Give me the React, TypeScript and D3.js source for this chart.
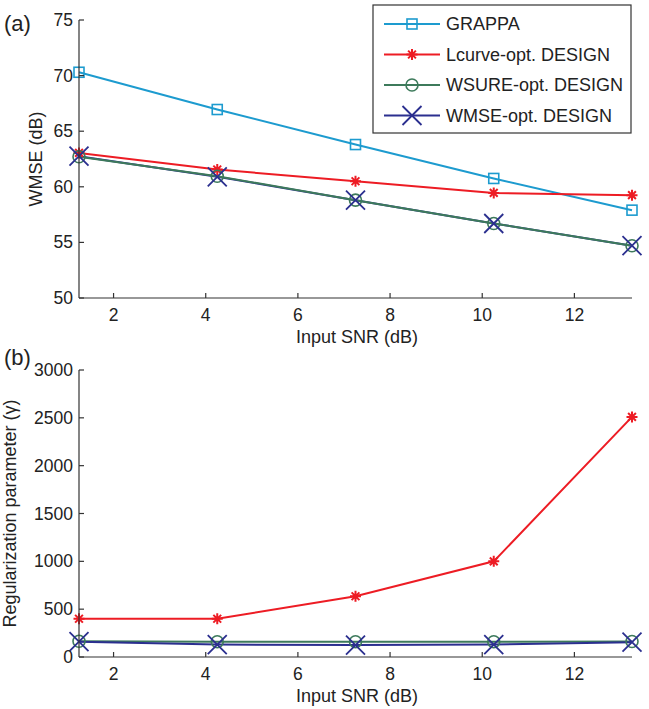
import React from "react";
import * as d3 from "d3";

// input SNR (dB) for every measurement
const snr = [1.25, 4.25, 7.25, 10.25, 13.25];

// (a) WMSE in dB
const wmseGrappa = [70.3, 66.95, 63.8, 60.75, 57.9];
const wmseLcurve = [63.05, 61.55, 60.5, 59.45, 59.25];
const wmseWsure = [62.7, 60.95, 58.8, 56.7, 54.7];
const wmseWmse = [62.75, 60.9, 58.8, 56.7, 54.7];

// (b) regularization parameter
const gammaLcurve = [400, 400, 635, 1000, 2510];
const gammaWsure = [165, 160, 160, 160, 162];
const gammaWmse = [160, 130, 125, 130, 155];

const xTicks = [2, 4, 6, 8, 10, 12];
const yTicksA = [50, 55, 60, 65, 70, 75];
const yTicksB = [0, 500, 1000, 1500, 2000, 2500, 3000];

const legendNames = [
  "GRAPPA",
  "Lcurve-opt. DESIGN",
  "WSURE-opt. DESIGN",
  "WMSE-opt. DESIGN",
];

const colors = ["#1d9bcf", "#ed1c24", "#3d7a5b", "#2b2f8f"];
const markers = ["square", "star", "circle", "cross"];

const FONT = "'Liberation Sans', Arial, Helvetica, sans-serif";
const AXIS = "#333";

const Marker = ({ type, x, y, color }) => {
  if (type === "square")
    return <rect x={x - 5} y={y - 5} width={10} height={10} fill="none" stroke={color} strokeWidth={1.6} />;
  if (type === "circle")
    return <circle cx={x} cy={y} r={6} fill="none" stroke={color} strokeWidth={1.6} />;
  if (type === "cross") {
    const s = 9.5;
    return (
      <path d={`M${x - s},${y - s}L${x + s},${y + s}M${x - s},${y + s}L${x + s},${y - s}`} stroke={color} strokeWidth={1.8} />
    );
  }
  // star (asterisk)
  const s = 5.5;
  const d = 3.9;
  return (
    <path
      d={`M${x - s},${y}L${x + s},${y}M${x},${y - s}L${x},${y + s}M${x - d},${y - d}L${x + d},${y + d}M${x - d},${y + d}L${x + d},${y - d}`}
      stroke={color}
      strokeWidth={2}
    />
  );
};

const Panel = ({ series, yScale, yTicks, label, tag, tagY, yLabel, yLabelX }) => {
  const x = d3.scaleLinear().domain([1.25, 13.25]).range([79, 632]);
  const y0 = yScale.range()[0];
  const y1 = yScale.range()[1];
  const line = d3
    .line()
    .x((d) => x(d[0]))
    .y((d) => yScale(d[1]));
  // lines drawn in lineOrder, so the green WSURE line sits on top of the WMSE one
  const lineOrder = series.map((s, i) => i).sort((a, b) => series[a].z - series[b].z);
  return (
    <g fontFamily={FONT}>
      {lineOrder.map((i) => (
        <path
          key={"l" + i}
          d={line(snr.map((v, j) => [v, series[i].values[j]]))}
          fill="none"
          stroke={series[i].color}
          strokeWidth={2}
        />
      ))}
      {series.map((s, i) =>
        snr.map((v, j) => (
          <Marker key={"m" + i + "-" + j} type={s.marker} x={x(v)} y={yScale(s.values[j])} color={s.color} />
        ))
      )}
      <line x1={79} x2={632} y1={y0} y2={y0} stroke={AXIS} strokeWidth={1.2} />
      <line x1={79} x2={79} y1={y0} y2={y1} stroke={AXIS} strokeWidth={1.2} />
      {xTicks.map((t) => (
        <g key={"x" + t}>
          <line x1={x(t)} x2={x(t)} y1={y0} y2={y0 - 5} stroke={AXIS} strokeWidth={1.2} />
          <text x={x(t)} y={y0 + 23} textAnchor="middle" fontSize={17.5} fill="#222">
            {t}
          </text>
        </g>
      ))}
      {yTicks.map((t) => (
        <g key={"y" + t}>
          <line x1={79} x2={84} y1={yScale(t)} y2={yScale(t)} stroke={AXIS} strokeWidth={1.2} />
          <text x={73} y={yScale(t) + 6} textAnchor="end" fontSize={17.5} fill="#222">
            {t}
          </text>
        </g>
      ))}
      <text x={357} y={y0 + 45} textAnchor="middle" fontSize={18} fill="#222">
        {label}
      </text>
      <text
        transform={`translate(${yLabelX},${(y0 + y1) / 2}) rotate(-90)`}
        textAnchor="middle"
        fontSize={18}
        fill="#222"
      >
        {yLabel}
      </text>
      <text x={4} y={tagY} fontSize={22} fill="#222">
        {tag}
      </text>
    </g>
  );
};

export default function App() {
  const yA = d3.scaleLinear().domain([50, 75]).range([298, 20]);
  const yB = d3.scaleLinear().domain([0, 3000]).range([657, 370]);

  const zA = [0, 1, 3, 2];
  const seriesA = [wmseGrappa, wmseLcurve, wmseWsure, wmseWmse].map((values, i) => ({
    values,
    color: colors[i],
    marker: markers[i],
    z: zA[i],
  }));
  const seriesB = [gammaLcurve, gammaWsure, gammaWmse].map((values, i) => ({
    values,
    color: colors[i + 1],
    marker: markers[i + 1],
    z: i,
  }));

  return (
    <svg width={649} height={709} style={{ position: "absolute", left: 0, top: 0, background: "#fff" }}>
      <rect width={649} height={709} fill="#fff" />
      <Panel
        series={seriesA}
        yScale={yA}
        yTicks={yTicksA}
        label="Input SNR (dB)"
        tag="(a)"
        tagY={31}
        yLabel="WMSE (dB)"
        yLabelX={42}
      />
      <Panel
        series={seriesB}
        yScale={yB}
        yTicks={yTicksB}
        label="Input SNR (dB)"
        tag="(b)"
        tagY={365}
        yLabel="Regularization parameter (γ)"
        yLabelX={16}
      />
      <g fontFamily={FONT}>
        <rect x={373} y={5} width={258} height={128} fill="#fff" stroke={AXIS} strokeWidth={1.2} />
        {legendNames.map((name, i) => {
          const ly = 24 + i * 30.5;
          return (
            <g key={name}>
              <line x1={384} x2={440} y1={ly} y2={ly} stroke={colors[i]} strokeWidth={2} />
              <Marker type={markers[i]} x={412} y={ly} color={colors[i]} />
              <text x={446} y={ly + 6} fontSize={18} fill="#222">
                {name}
              </text>
            </g>
          );
        })}
      </g>
    </svg>
  );
}
